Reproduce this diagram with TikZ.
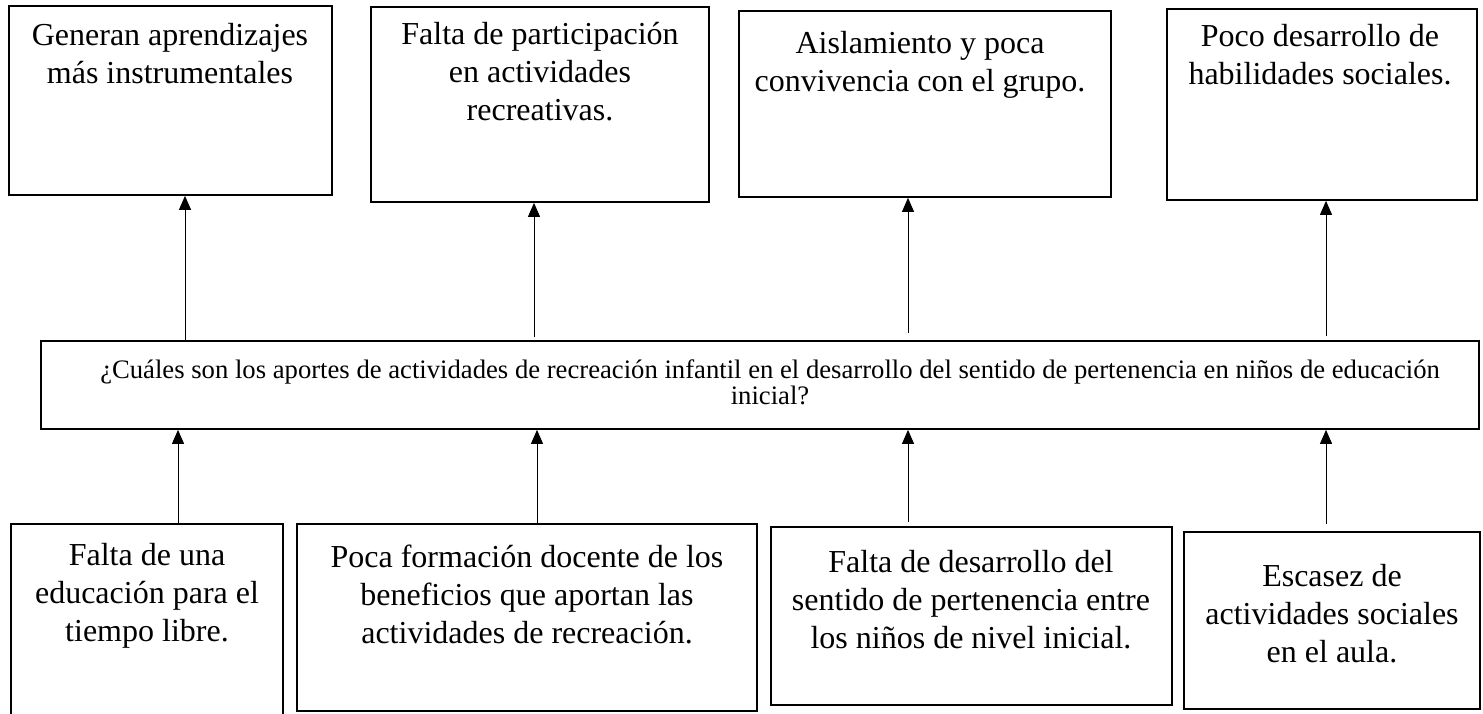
\documentclass[tikz,border=0pt]{standalone}
\usepackage{fontspec}
\setmainfont{Liberation Serif}
\usetikzlibrary{arrows.meta}
\begin{document}
\begin{tikzpicture}[x=0.75pt,y=-0.75pt,
  box/.style={draw, line width=1.3pt, inner sep=0pt},
  txt/.style={font=\fontsize{24}{28.5}\selectfont, align=center, inner sep=0pt, anchor=north},
  mtxt/.style={font=\fontsize{20}{19.5}\selectfont, align=center, inner sep=0pt, anchor=north},
  arr/.style={line width=0.75pt, -{Triangle[width=9pt,length=10.5pt]}}]
\useasboundingbox (0,0) rectangle (1483,713);
% top boxes
\node[box, minimum width=242.25pt, minimum height=141.75pt] (T1) at (170.5,100.5) {};
\node[box, minimum width=253.5pt, minimum height=146.25pt] (T2) at (540,104.5) {};
\node[box, minimum width=279pt, minimum height=139.5pt] (T3) at (925,104) {};
\node[box, minimum width=232.5pt, minimum height=143.25pt] (T4) at (1322,104.5) {};
% middle box
\node[box, minimum width=1078.5pt, minimum height=66pt] (M) at (760,385) {};
% bottom boxes
\node[box, minimum width=204pt, minimum height=147pt] (B1) at (147,622) {};
\node[box, minimum width=345pt, minimum height=140.25pt] (B2) at (527,617.5) {};
\node[box, minimum width=300.75pt, minimum height=133.5pt] (B3) at (971.5,616) {};
\node[box, minimum width=222pt, minimum height=132.75pt] (B4) at (1332,620.5) {};
% texts
\node[txt] (t1) at (170,21) {\rule{0pt}{18pt}Generan aprendizajes\\más instrumentales};
\node[txt] (t2) at (540,20) {\rule{0pt}{18pt}Falta de participación\\en actividades\\recreativas.};
\node[txt] (t3) at (920,29) {\rule{0pt}{18pt}Aislamiento y poca\\convivencia con el grupo.};
\node[txt] (t4) at (1320,22) {\rule{0pt}{18pt}Poco desarrollo de\\habilidades sociales.};
\node[mtxt] (m) at (770,358) {\rule{0pt}{15pt}¿Cuáles son los aportes de actividades de recreación infantil en el desarrollo del sentido de pertenencia en niños de educación\\inicial?};
\node[txt] (b1) at (147,541) {\rule{0pt}{18pt}Falta de una\\educación para el\\tiempo libre.};
\node[txt] (b2) at (527,543) {\rule{0pt}{18pt}Poca formación docente de los\\beneficios que aportan las\\actividades de recreación.};
\node[txt] (b3) at (971,548) {\rule{0pt}{18pt}Falta de desarrollo del\\sentido de pertenencia entre\\los niños de nivel inicial.};
\node[txt] (b4) at (1332,562) {\rule{0pt}{18pt}Escasez de\\actividades sociales\\en el aula.};
% arrows up to top boxes
\draw[arr] (M.north -| 185,0) -- (T1.south -| 185,0);
\draw[arr, shorten <=2.25pt] (M.north -| 534,0) -- (T2.south -| 534,0);
\draw[arr, shorten <=5.25pt] (M.north -| 908,0) -- (T3.south -| 908,0);
\draw[arr, shorten <=3pt] (M.north -| 1326,0) -- (T4.south -| 1326,0);
% arrows up from bottom boxes
\draw[arr] (B1.north -| 178,0) -- (M.south -| 178,0);
\draw[arr] (B2.north -| 537,0) -- (M.south -| 537,0);
\draw[arr, shorten <=3pt] (B3.north -| 908,0) -- (M.south -| 908,0);
\draw[arr, shorten <=5.25pt] (B4.north -| 1326,0) -- (M.south -| 1326,0);
\end{tikzpicture}
\end{document}
